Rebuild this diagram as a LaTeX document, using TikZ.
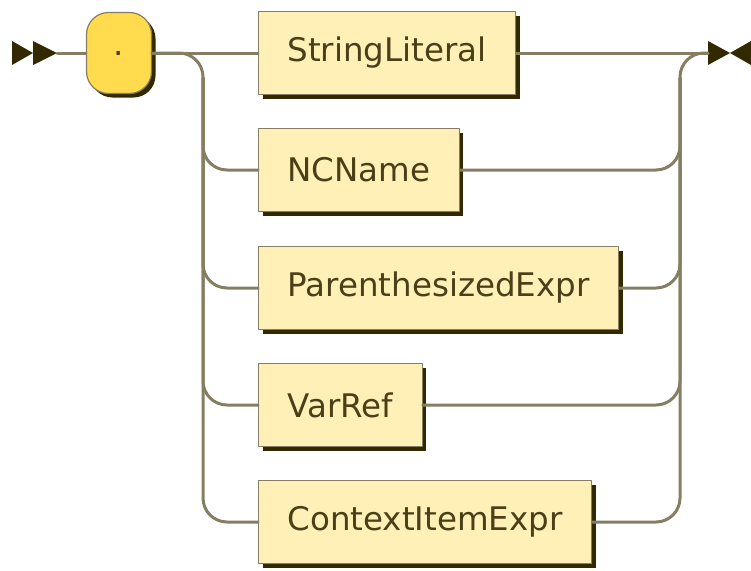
\documentclass[tikz,border=0pt]{standalone}
\usepackage{fontspec}
\setmainfont{DejaVu Sans}
\usetikzlibrary{shadows}
\definecolor{railline}{HTML}{857E63}
\definecolor{railink}{HTML}{332900}
\definecolor{termfill}{HTML}{FFDB4D}
\definecolor{ntfill}{HTML}{FFF0B8}
\definecolor{railtext}{HTML}{4A3F16}

\begin{document}
\begin{tikzpicture}[line cap=round,line join=round,x=1pt,y=-1pt,
  rail/.style={draw=railline,line width=3pt,rounded corners=24pt},
  ntbox/.style={draw=railline,line width=1.2pt,fill=ntfill,text=railtext,
    font=\fontsize{32.5}{38}\selectfont,minimum height=83pt,inner xsep=29pt,anchor=west,
    drop shadow={shadow xshift=4pt,shadow yshift=-4pt,opacity=1,fill=railink}},
  tbox/.style={ntbox,fill=termfill,rounded corners=22pt,minimum width=65pt,minimum height=81pt,inner xsep=0pt,anchor=center}]
\useasboundingbox (0,0) rectangle (751,570);
\fill[railink] (12,41) -- (33,53) -- (12,65) -- cycle;
\fill[railink] (33,41) -- (57,53) -- (33,65) -- cycle;
\fill[railink] (708,41) -- (730,53) -- (708,65) -- cycle;
\fill[railink] (751,41) -- (730,53) -- (751,65) -- cycle;
\coordinate (start) at (57,53);
\coordinate (stop) at (708,53);
\coordinate (split) at (203,78);
\coordinate (join) at (680,78);
\node[tbox] (dot) at (119,53) {.};
\node[ntbox] (strlit) at (258,53) {StringLiteral};
\node[ntbox] (ncname) at (258,170) {NCName};
\node[ntbox] (parexpr) at (258,288) {ParenthesizedExpr};
\node[ntbox] (varref) at (258,405) {VarRef};
\node[ntbox] (ctxitem) at (258,522) {ContextItemExpr};
\draw[rail] (start) -- (dot.west);
\draw[rail] (dot.east) -- (strlit.west);
\draw[rail] (strlit.east) -- (stop);
\draw[rail] (dot.east) -| (split |- ctxitem) -- (ctxitem.west);
\draw[rail] (ctxitem.east) -| (join |- stop) -- (stop);
\draw[rail] (split) |- (ncname.west);
\draw[rail] (split) |- (parexpr.west);
\draw[rail] (split) |- (varref.west);
\draw[rail] (ncname.east) -| (join);
\draw[rail] (parexpr.east) -| (join);
\draw[rail] (varref.east) -| (join);
\end{tikzpicture}
\end{document}
